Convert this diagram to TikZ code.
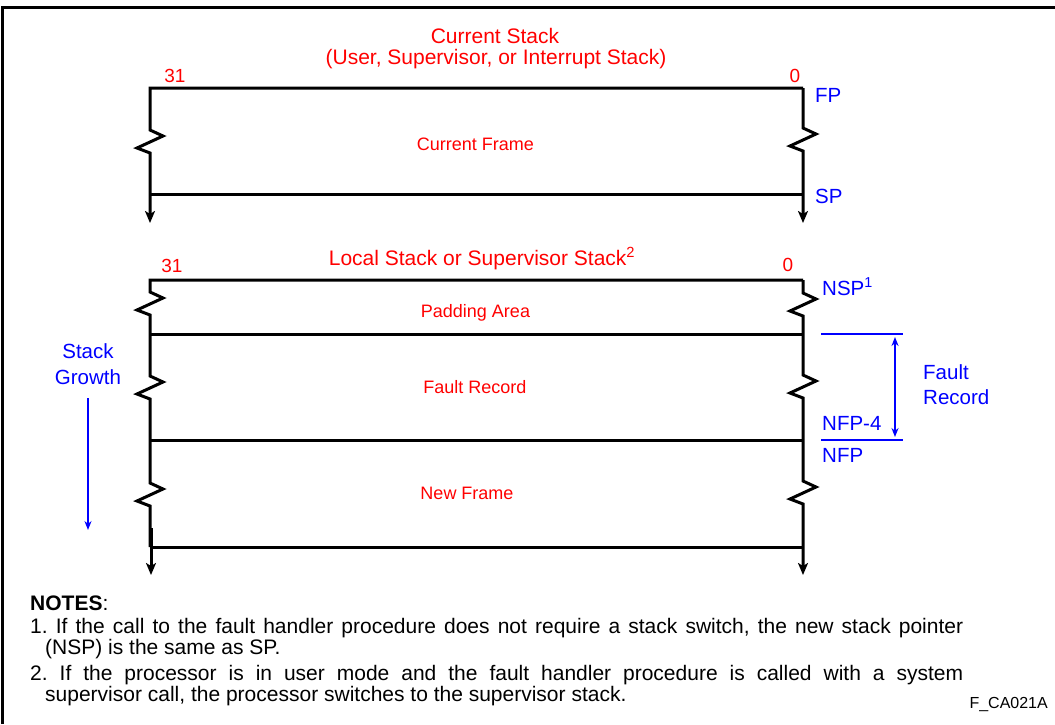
\documentclass[tikz,border=0pt]{standalone}
\usepackage{fontspec}
\setmainfont{Liberation Sans}
\usetikzlibrary{arrows.meta}
\definecolor{lred}{RGB}{255,0,0}
\definecolor{lblue}{RGB}{0,0,255}
\frenchspacing
\begin{document}
\begin{tikzpicture}[x=1pt,y=-1pt,
  wall/.style={line width=3pt, line join=miter},
  downarrow/.style={wall,-{Stealth[length=12pt,width=10pt,inset=3pt]}},
  title/.style={text=lred, font=\fontsize{21}{24}\selectfont, anchor=base, inner sep=0pt},
  area/.style={text=lred, font=\fontsize{18}{21}\selectfont, anchor=base, inner sep=0pt},
  bitno/.style={text=lred, font=\fontsize{19}{22}\selectfont, anchor=base, inner sep=0pt},
  ptr/.style={text=lblue, font=\fontsize{20.5}{24}\selectfont, anchor=base west, inner sep=0pt},
  note/.style={font=\fontsize{21}{21}\selectfont, anchor=base west, inner sep=0pt},
  bluerule/.style={lblue, line width=2pt},
  bluearrow/.style={lblue, line width=1.6pt},
]
\useasboundingbox (0,0) rectangle (1055,724);
% outer frame
\draw[line width=3pt] (2.5,724) -- (2.5,7) -- (1055,7);

% ---------- Current stack ----------
\node[title] (cstack) at (495,43) {Current Stack};
\node[title] (cstack2) at (496,64) {(User, Supervisor, or Interrupt Stack)};
\node[bitno] (b31a) at (175,82) {31};
\node[bitno] (b0a) at (795,82) {0};
\coordinate (tl) at (150,88);
\coordinate (tr) at (803,88);
\coordinate (bl) at (150,194);
\coordinate (br) at (803,194);
\draw[downarrow] (tr) -- (tl) -- (150,130) -- ++(13,6) -- ++(-26,12) -- ++(13,5) -- (150,223);
\draw[downarrow] (tr) -- (803,128) -- ++(13,6) -- ++(-26,12) -- ++(13,5) -- (803,223);
\draw[wall] (bl) -- (br);
\node[area] (cframe) at (475.5,150) {Current Frame};
\node[ptr] (fp) at (815,102) {FP};
\node[ptr] (sp) at (815,203) {SP};

% ---------- Local / supervisor stack ----------
\node[title] (lstack) at (482,265) {Local Stack or Supervisor Stack\textsuperscript{2}};
\node[bitno] (b31b) at (172,272) {31};
\node[bitno] (b0b) at (788,271) {0};
\coordinate (l0) at (150,280);
\coordinate (r0) at (803,280);
\coordinate (l1) at (150,334);
\coordinate (r1) at (803,334);
\coordinate (l2) at (150,440);
\coordinate (r2) at (803,440);
\coordinate (l3) at (150,547);
\coordinate (r3) at (803,547);
\draw[wall] (r0) -- (l0) -- (150,292) -- ++(13,6) -- ++(-26,12) -- ++(13,5)
  -- (150,376) -- ++(13,6) -- ++(-26,12) -- ++(13,5)
  -- (150,483) -- ++(13,6) -- ++(-26,12) -- ++(13,5) -- (l3);
\draw[downarrow] (151,528) -- (151,575);
\draw[downarrow] (r0) -- (803,293) -- ++(13,6) -- ++(-26,12) -- ++(13,5)
  -- (803,375) -- ++(13,6) -- ++(-26,12) -- ++(13,5)
  -- (803,481) -- ++(13,6) -- ++(-26,12) -- ++(13,5) -- (803,575);
\draw[wall] (l1) -- (r1);
\draw[wall] (l2) -- (r2);
\draw[wall] (l3) -- (r3);
\node[area] (pad) at (475.5,317) {Padding Area};
\node[area] (frec) at (475,393) {Fault Record};
\node[area] (nframe) at (467,499) {New Frame};

% right-hand pointers
\node[ptr] (nsp) at (822,295) {NSP\textsuperscript{1}};
\node[ptr] (nfp4) at (822,430) {NFP-4};
\node[ptr] (nfp) at (822,462) {NFP};
\coordinate (ra) at (821,334);
\coordinate (rb) at (903,334);
\coordinate (rc) at (821,440);
\coordinate (rd) at (903,440);
\draw[bluerule] (ra) -- (rb);
\draw[bluerule] (rc) -- (rd);
\coordinate (fa) at (895,337);
\coordinate (fb) at (895,437);
\draw[bluearrow, {Stealth[length=9pt,width=7pt]}-{Stealth[length=9pt,width=7pt]}] (fa) -- (fb);
\node[ptr] (fr1) at (923,379) {Fault};
\node[ptr] (fr2) at (923,404) {Record};

% stack growth
\node[ptr, anchor=base] (sg1) at (88,358) {Stack};
\node[ptr, anchor=base] (sg2) at (88,384) {Growth};
\coordinate (ga) at (88,398);
\coordinate (gb) at (88,530);
\draw[bluearrow, line width=1.5pt, -{Stealth[length=9pt,width=7pt]}] (ga) -- (gb);

% ---------- notes ----------
\node[note] (notes) at (30,610) {\textbf{NOTES}:};
\node[note] (n1a) at (30,633) {\makebox[933pt][s]{1. If the call to the fault handler procedure does not require a stack switch, the new stack pointer}};
\node[note] (n1b) at (45,654) {(NSP) is the same as SP.};
\node[note] (n2a) at (30,680) {\makebox[933pt][s]{2. If the processor is in user mode and the fault handler procedure is called with a system}};
\node[note] (n2b) at (45,701) {supervisor call, the processor switches to the supervisor stack.};
\node[font=\fontsize{16}{18}\selectfont, anchor=base east, inner sep=0pt] (fig) at (1048,708) {F\_CA021A};
\end{tikzpicture}
\end{document}
